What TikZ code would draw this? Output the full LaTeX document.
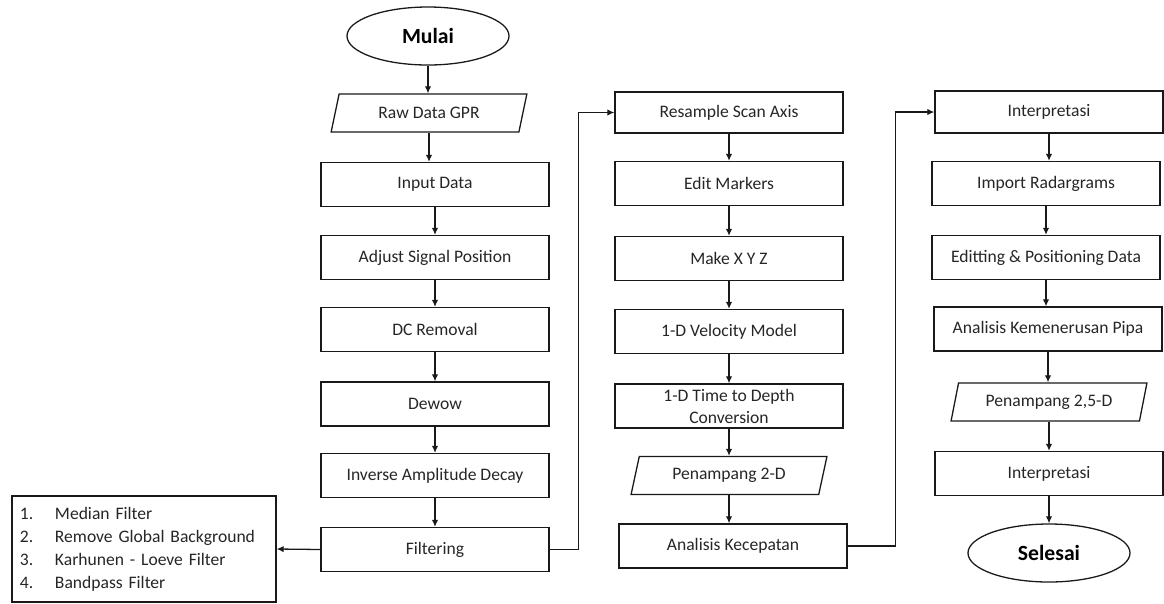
\documentclass[tikz,border=0pt]{standalone}
\usepackage{fontspec}
\setmainfont{Carlito}
\usetikzlibrary{shapes.geometric,arrows.meta}

\tikzset{
    process/.style={draw=black!90, line width=1.1pt, text=black!85,
        minimum width=6.84cm, minimum height=1.32cm, align=center,
        font=\fontsize{15}{18.8}\selectfont},
    terminal/.style={draw=black!90, line width=1.1pt, ellipse,
        minimum width=4.86cm, minimum height=1.74cm,
        font=\fontsize{18.5}{22}\selectfont\bfseries},
    io/.style={draw=black!90, line width=1.1pt, text=black!85, trapezium,
        trapezium left angle=76, trapezium right angle=104,
        trapezium stretches=true, minimum width=5.88cm, minimum height=1.14cm,
        font=\fontsize{15}{18.8}\selectfont},
    legend/.style={draw=black!90, line width=1.1pt, text=black!85,
        text width=7.44cm, inner xsep=0.24cm, minimum height=3.18cm, align=left,
        font=\fontsize{15}{19.6}\selectfont},
    arrow/.style={-{Latex[length=6pt,width=5.5pt]}, line width=1.1pt, draw=black!90}
}

\begin{document}
\begin{tikzpicture}[x=0.03cm, y=-0.03cm]
    \useasboundingbox (0,0) rectangle (1164,603);

    % Pre-processing column
    \node (mulai) [terminal] at (428,36) {Mulai};
    \node (raw) [io] at (429,113) {Raw Data GPR};
    \node (input) [process] at (435,184.5) {Input Data};
    \node (adjust) [process] at (435,257.5) {Adjust Signal Position};
    \node (dc) [process] at (435,329.5) {DC Removal};
    \node (dewow) [process] at (435,404) {Dewow};
    \node (inverse) [process] at (435,475.5) {Inverse Amplitude Decay};
    \node (filtering) [process] at (435,549.5) {Filtering};

    % Filter list
    \node (filters) [legend] at (144,549) {%
        \makebox[1.05cm][l]{1.}Median Filter\\
        \makebox[1.05cm][l]{2.}Remove Global Background\\
        \makebox[1.05cm][l]{3.}Karhunen - Loeve Filter\\
        \makebox[1.05cm][l]{4.}Bandpass Filter};

    % Processing column
    \node (resample) [process, minimum height=1.23cm] at (729,112.5) {Resample Scan Axis};
    \node (markers) [process] at (729,183.5) {Edit Markers};
    \node (xyz) [process] at (729,258.5) {Make X Y Z};
    \node (velocity) [process] at (729,331.5) {1-D Velocity Model};
    \node (depth) [process] at (729,406) {1-D Time to Depth\\Conversion};
    \node (pen2d) [io] at (729,475.5) {Penampang 2-D};
    \node (kecepatan) [process] at (733,546) {Analisis Kecepatan};

    % Interpretation column
    \node (interp1) [process, minimum height=1.26cm] at (1049,112) {Interpretasi};
    \node (radargrams) [process] at (1046,183.5) {Import Radargrams};
    \node (positioning) [process] at (1046,257.5) {Editting \& Positioning Data};
    \node (pipa) [process] at (1048,329) {Analisis Kemenerusan Pipa};
    \node (pen25d) [io] at (1049,402) {Penampang 2,5-D};
    \node (interp2) [process] at (1049,473.5) {Interpretasi};
    \node (selesai) [terminal] at (1049,553) {Selesai};

    % Straight flow
    \foreach \a/\b in {mulai/raw, raw/input, input/adjust, adjust/dc, dc/dewow,
            dewow/inverse, inverse/filtering,
            resample/markers, markers/xyz, xyz/velocity, velocity/depth,
            depth/pen2d, pen2d/kecepatan,
            interp1/radargrams, radargrams/positioning, positioning/pipa,
            pipa/pen25d, pen25d/interp2, interp2/selesai}
        \draw[arrow] (\a.south) -- (\a.south |- \b.north);

    % Jumps between columns
    \draw[arrow] (filtering.west) -- (filters.east);
    \draw[arrow] (filtering.east) -- ++(0.87cm,0) |- (resample.west);
    \draw[arrow] (kecepatan.east) -- ++(1.44cm,0) |- (interp1.west);

\end{tikzpicture}
\end{document}
